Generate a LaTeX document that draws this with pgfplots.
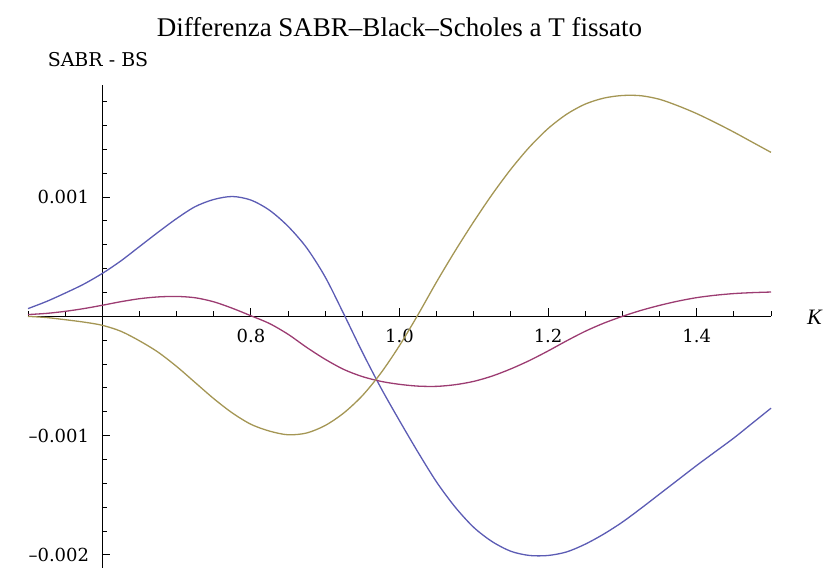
\documentclass[border=0pt]{standalone}
\usepackage{fontspec}
\setmainfont{Liberation Serif}
\newfontfamily\tickfont{DejaVu Serif}
\usepackage{pgfplots}
\pgfplotsset{compat=1.18}

\definecolor{curveA}{RGB}{92,92,180}
\definecolor{curveB}{RGB}{156,60,114}
\definecolor{curveC}{RGB}{164,150,84}

% SABR minus Black-Scholes price difference against the strike K
\pgfplotstableread{
x      y
0.500  0.000065
0.525  0.000125
0.550  0.000195
0.575  0.000270
0.600  0.000360
0.625  0.000465
0.650  0.000585
0.675  0.000705
0.700  0.000820
0.725  0.000920
0.750  0.000980
0.775  0.001005
0.800  0.000975
0.825  0.000890
0.850  0.000755
0.875  0.000575
0.900  0.000330
0.925  0.000020
0.950  -0.000300
0.975  -0.000600
1.000  -0.000875
1.025  -0.001140
1.050  -0.001390
1.075  -0.001600
1.100  -0.001770
1.125  -0.001890
1.150  -0.001970
1.175  -0.002005
1.200  -0.002005
1.225  -0.001975
1.250  -0.001910
1.275  -0.001825
1.300  -0.001725
1.325  -0.001610
1.350  -0.001490
1.375  -0.001370
1.400  -0.001250
1.425  -0.001135
1.450  -0.001020
1.475  -0.000895
1.500  -0.000770
}\seriesA

\pgfplotstableread{
x      y
0.500  0.000015
0.525  0.000025
0.550  0.000042
0.575  0.000065
0.600  0.000093
0.625  0.000123
0.650  0.000148
0.675  0.000163
0.700  0.000167
0.725  0.000156
0.750  0.000122
0.775  0.000068
0.800  0.000005
0.825  -0.000060
0.850  -0.000150
0.875  -0.000260
0.900  -0.000360
0.925  -0.000445
0.950  -0.000505
0.975  -0.000545
1.000  -0.000570
1.025  -0.000585
1.050  -0.000587
1.075  -0.000573
1.100  -0.000545
1.125  -0.000500
1.150  -0.000440
1.175  -0.000370
1.200  -0.000290
1.225  -0.000205
1.250  -0.000125
1.275  -0.000057
1.300  0.000000
1.325  0.000050
1.350  0.000092
1.375  0.000128
1.400  0.000157
1.425  0.000177
1.450  0.000191
1.475  0.000199
1.500  0.000204
}\seriesB

\pgfplotstableread{
x      y
0.500  0.000000
0.525  -0.000010
0.550  -0.000028
0.575  -0.000048
0.600  -0.000075
0.625  -0.000125
0.650  -0.000205
0.675  -0.000300
0.700  -0.000420
0.725  -0.000555
0.750  -0.000690
0.775  -0.000810
0.800  -0.000905
0.825  -0.000962
0.850  -0.000993
0.875  -0.000978
0.900  -0.000915
0.925  -0.000810
0.950  -0.000665
0.975  -0.000475
1.000  -0.000245
1.025  0.000015
1.050  0.000290
1.075  0.000550
1.100  0.000795
1.125  0.001025
1.150  0.001235
1.175  0.001420
1.200  0.001575
1.225  0.001695
1.250  0.001780
1.275  0.001830
1.300  0.001852
1.325  0.001850
1.350  0.001820
1.375  0.001765
1.400  0.001700
1.425  0.001625
1.450  0.001545
1.475  0.001460
1.500  0.001375
}\seriesC

\begin{document}
\begin{tikzpicture}
\begin{axis}[
  at={(28bp,0bp)}, anchor=south west,
  scale only axis, width=743bp, height=483bp,
  xmin=0.5, xmax=1.5, ymin=-0.00211, ymax=0.00194,
  axis x line=middle, axis y line=left,
  axis y line shift=-74.3bp,
  axis line style={-, line width=1.3bp, black},
  tick align=inside,
  major tick length=8bp, minor tick length=5bp,
  tick style={black, line width=1bp},
  xtick={0.8,1.0,1.2,1.4}, xticklabels={0.8,1.0,1.2,1.4},
  minor xtick={0.5,0.55,0.65,0.7,0.75,0.85,0.9,0.95,1.05,1.1,1.15,1.25,1.3,1.35,1.45,1.5},
  ytick={-0.002,-0.001,0.001}, yticklabels={–0.002,–0.001,0.001},
  minor ytick={-0.0018,-0.0016,-0.0014,-0.0012,-0.0008,-0.0006,-0.0004,-0.0002,0.0002,0.0004,0.0006,0.0008,0.0012,0.0014,0.0016,0.0018},
  scaled ticks=false,
  ticklabel style={font=\tickfont\fontsize{18bp}{20bp}\selectfont, inner sep=0pt},
  xticklabel style={anchor=north, yshift=-13bp},
  yticklabel style={anchor=east, xshift=-13bp},
  clip=false,
]
\addplot[curveA, line width=1.3bp, smooth, no marks] table {\seriesA};
\addplot[curveB, line width=1.3bp, smooth, no marks] table {\seriesB};
\addplot[curveC, line width=1.3bp, smooth, no marks] table {\seriesC};
\end{axis}
\node[anchor=base, font=\fontsize{27bp}{30bp}\selectfont] at (399.5bp,531bp)
  {Differenza SABR–Black–Scholes a T fissato};
\node[anchor=base, font=\tickfont\fontsize{19bp}{21bp}\selectfont] at (98bp,501bp)
  {SABR - BS};
\node[anchor=west, inner sep=0pt, font=\itshape\fontsize{22bp}{24bp}\selectfont] at (807bp,251bp) {K};
\pgfresetboundingbox
\path[use as bounding box] (0,0) rectangle (826bp,568bp);
\end{tikzpicture}
\end{document}
